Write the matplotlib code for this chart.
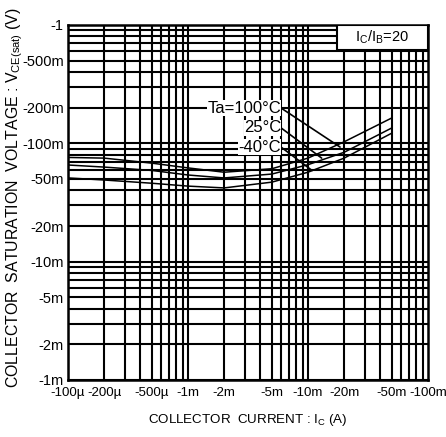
import matplotlib
matplotlib.use("Agg")
import matplotlib.pyplot as plt
from matplotlib.ticker import FixedLocator, NullLocator
from matplotlib.patches import Rectangle
import numpy as np
from matplotlib import font_manager

# ---- data ----
ic = [-100e-6, -200e-6, -500e-6, -1e-3, -2e-3, -5e-3, -10e-3, -20e-3, -50e-3]
v_100 = [-0.076, -0.075, -0.068, -0.062, -0.057, -0.061, -0.075, -0.103, -0.164]
v_25 = [-0.0656, -0.063, -0.059, -0.054, -0.051, -0.055, -0.066, -0.084, -0.135]
v_m40 = [-0.051, -0.049, -0.046, -0.0435, -0.042, -0.047, -0.057, -0.075, -0.122]

x_ticks = [-100e-6, -200e-6, -500e-6, -1e-3, -2e-3, -5e-3, -10e-3, -20e-3, -50e-3, -100e-3]
x_labels = ["-100µ", "-200µ", "-500µ", "-1m", "-2m", "-5m", "-10m", "-20m", "-50m", "-100m"]
y_ticks = [-1, -0.5, -0.2, -0.1, -0.05, -0.02, -0.01, -0.005, -0.002, -0.001]
y_labels = ["-1", "-500m", "-200m", "-100m", "-50m", "-20m", "-10m", "-5m", "-2m", "-1m"]

series_labels = ["Ta=100°C", "25°C", "-40°C"]
# leader end points on curves (Ic, V)
leader_pts = [(-18.5e-3, -0.093), (-13e-3, -0.075), (-10.8e-3, -0.059)]

names = {f.name for f in font_manager.fontManager.ttflist}
narrow = "Liberation Sans Narrow" if "Liberation Sans Narrow" in names else "Liberation Sans"
plt.rcParams['font.family'] = ['Liberation Sans', 'DejaVu Sans']

fig = plt.figure(figsize=(4.46, 4.37), dpi=100)
ax = fig.add_axes([68/446, 1-380/437, 360/446, 355/437])
ax.set_xscale('log')
ax.set_yscale('log')
ax.set_xlim(100e-6, 100e-3)
ax.set_ylim(1e-3, 1)

# grid lines at every 1..9 multiple
for dec in [1e-4, 1e-3, 1e-2]:
    for m in range(1, 10):
        ax.axvline(dec*m, color='black', lw=1.5, zorder=1)
for dec in [1e-3, 1e-2, 1e-1]:
    for m in range(1, 10):
        ax.axhline(dec*m, color='black', lw=1.5, zorder=1)

for v in [v_100, v_25, v_m40]:
    ax.plot(-np.array(ic), -np.array(v), color='black', lw=1.1, zorder=3)

ax.xaxis.set_major_locator(FixedLocator([-t for t in x_ticks]))
ax.xaxis.set_minor_locator(NullLocator())
ax.set_xticklabels(x_labels, fontfamily=[narrow, 'DejaVu Sans'], fontsize=9.6)
ax.yaxis.set_major_locator(FixedLocator([-t for t in y_ticks]))
ax.yaxis.set_minor_locator(NullLocator())
ax.set_yticklabels(y_labels, fontfamily=[narrow, 'DejaVu Sans'], fontsize=10.5)
ax.tick_params(axis='x', length=0, pad=5)
ax.tick_params(axis='y', length=0, pad=3)

for s in ax.spines.values():
    s.set_linewidth(1.8)

ax.set_xlabel("COLLECTOR  CURRENT : I$_\\mathregular{C}$ (A)", fontsize=9.6)
ax.xaxis.set_label_coords(0.5, -0.113)
ax.set_ylabel("COLLECTOR  SATURATION  VOLTAGE : V$_\\mathregular{CE(sat)}$ (V)", fontsize=11.4)
ax.yaxis.set_label_coords(-0.147, 0.515)
ax.yaxis.label.set_va('center')
ax.xaxis.label.set_va('center')

# Ic/Ib box
ax.add_patch(Rectangle((0.747, 0.93), 0.253, 0.07, transform=ax.transAxes,
                       fc='white', ec='black', lw=1.5, zorder=5))
ax.text(0.873, 0.965, "I$_\\mathregular{C}$/I$_\\mathregular{B}$=20", transform=ax.transAxes,
        ha='center', va='center', fontsize=10.5, zorder=6)

label_y = [0.766, 0.710, 0.656]
for lab, ly, (px, py) in zip(series_labels, label_y, leader_pts):
    ax.annotate(lab, xy=(-px, -py), xycoords='data', xytext=(0.592, ly), textcoords='axes fraction',
                ha='right', va='center', fontsize=12, zorder=6,
                bbox=dict(boxstyle='square,pad=0.02', fc='white', ec='none'),
                arrowprops=dict(arrowstyle='-', color='black', lw=1.2, shrinkA=0, shrinkB=0,
                                relpos=(1.0, 0.5)))

fig.savefig("out.png", dpi=100)
